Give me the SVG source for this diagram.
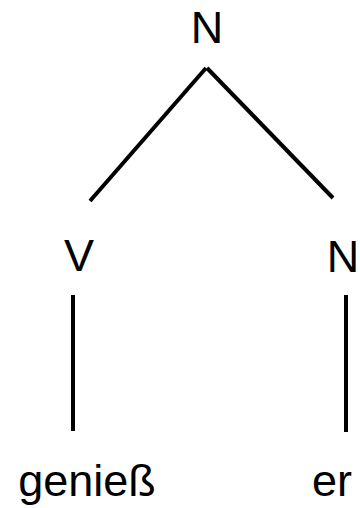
<svg xmlns="http://www.w3.org/2000/svg" width="360" height="508" viewBox="0 0 360 508">
<style>
text{font-family:"Liberation Sans","Open Sans",sans-serif;font-size:45px;fill:#000;text-anchor:middle}
line{stroke:#000;stroke-width:4;stroke-linecap:butt}
</style>
<rect width="360" height="508" fill="#fff"/>
<g id="connectors">
<line x1="206" y1="68" x2="90" y2="201"/>
<line x1="207" y1="68" x2="333" y2="198"/>
<line x1="73" y1="295" x2="73" y2="431"/>
<line x1="346" y1="295" x2="346" y2="432"/>
</g>
<g id="n-top"><text x="207" y="43">N</text></g>
<g id="v"><text x="79" y="271">V</text></g>
<g id="n-right"><text x="343" y="272">N</text></g>
<g id="w-geniess"><text x="87" y="496">genieß</text></g>
<g id="w-er"><text x="332" y="496">er</text></g>
</svg>
